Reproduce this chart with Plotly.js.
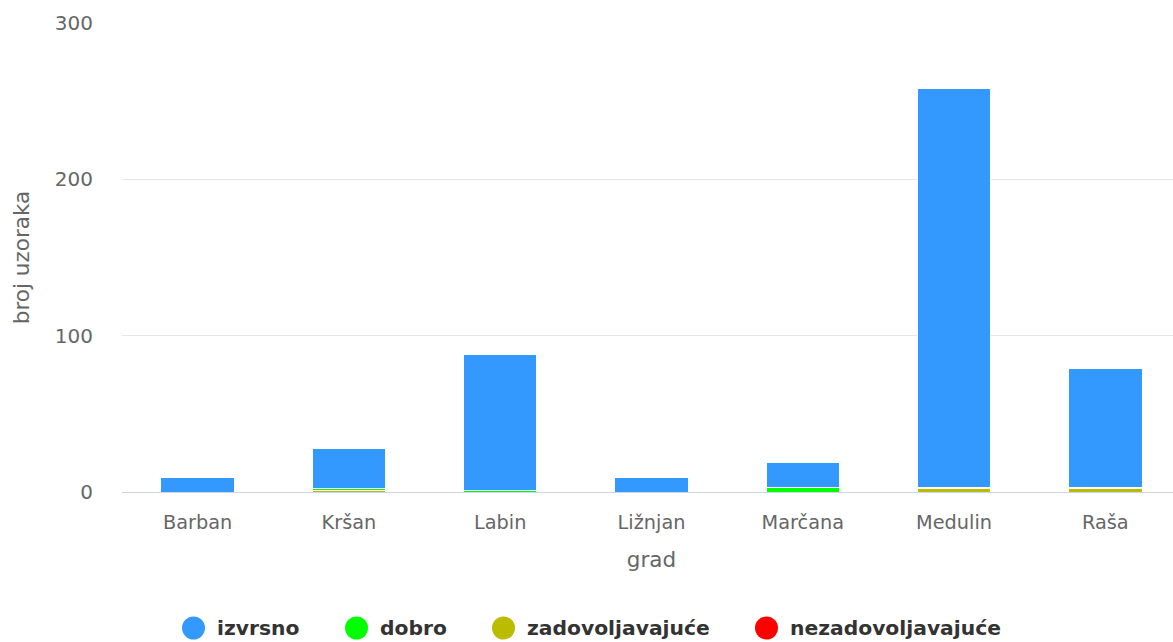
<!DOCTYPE html>
<html>
<head>
<meta charset="utf-8">
<script src="https://cdn.plot.ly/plotly-3.0.1.min.js"></script>
<style>html,body{margin:0;padding:0;background:#fff;overflow:hidden;}#chart{width:1181px;height:642px;}</style>
</head>
<body>
<div id="chart"></div>
<script>
// ---- data ----
const categories = ["Barban", "Kršan", "Labin", "Ližnjan", "Marčana", "Medulin", "Raša"];
const izvrsno = [9, 26, 87, 9, 16, 255, 76];
const dobro = [0, 1, 1, 0, 3, 1, 1];
const zadovoljavajuce = [0, 1, 0, 0, 0, 2, 2];
const nezadovoljavajuce = [0, 0, 0, 0, 0, 0, 0];
const seriesNames = ["izvrsno", "dobro", "zadovoljavajuće", "nezadovoljavajuće"];
const seriesColors = ["#3399ff", "#00ff00", "#bbbb00", "#ff0000"];
const yTicks = [0, 100, 200, 300];

// ---- geometry helpers ----
const W = 1181, H = 642, ML = 122, MR = 0, MT = 23, MB = 150;
const PW = W - ML - MR, PH = H - MT - MB;
const px = x => (x - ML) / PW;
const py = y => (H - MB - y) / PH;

const seriesValues = [izvrsno, dobro, zadovoljavajuce, nezadovoljavajuce];
const traces = [];
// stack bottom-up: nezadovoljavajuće, zadovoljavajuće, dobro, izvrsno
for (let i = seriesNames.length - 1; i >= 0; i--) {
  traces.push({
    type: "bar",
    name: seriesNames[i],
    x: categories,
    y: seriesValues[i],
    marker: {color: seriesColors[i], line: {color: "#ffffff", width: 1}},
    showlegend: false,
    hoverinfo: "x+y+name"
  });
}

// custom legend (circle symbols)
const legendStarts = [182, 345, 492, 755];
const shapes = [], annotations = [];
const legY = 628, r = 11.5;
seriesNames.forEach((n, i) => {
  const cx = legendStarts[i] + r;
  shapes.push({
    type: "circle", xref: "paper", yref: "paper",
    x0: px(cx - r), x1: px(cx + r), y0: py(legY + r), y1: py(legY - r),
    fillcolor: seriesColors[i], line: {width: 0}
  });
  annotations.push({
    xref: "paper", yref: "paper", x: px(legendStarts[i] + 33), y: py(legY),
    xanchor: "left", yanchor: "middle", showarrow: false,
    text: "<b>" + n + "</b>",
    font: {family: "DejaVu Sans", size: 20.3, color: "#333333"}
  });
});

const layout = {
  width: W, height: H,
  margin: {l: ML, r: MR, t: MT, b: MB, pad: 0},
  paper_bgcolor: "#ffffff", plot_bgcolor: "#ffffff",
  barmode: "stack",
  bargap: 0.515,
  showlegend: false,
  font: {family: "DejaVu Sans", color: "#666666"},
  xaxis: {
    type: "category",
    showgrid: false,
    showline: true, linecolor: "#ccd6eb", linewidth: 1,
    ticks: "", tickfont: {family: "DejaVu Sans", size: 19.3, color: "#666666"},
    ticklabelstandoff: 13,
    title: {text: "grad", font: {family: "DejaVu Sans", size: 21.5, color: "#666666"}, standoff: 18},
    fixedrange: true
  },
  yaxis: {
    range: [0, 300],
    tickvals: yTicks,
    ticktext: yTicks.map(String),
    showgrid: true, gridcolor: "#e6e6e6", gridwidth: 1,
    zeroline: false, showline: false,
    ticks: "", tickfont: {family: "DejaVu Sans", size: 20, color: "#666666"},
    ticklabelstandoff: 28,
    title: {text: "broj uzoraka", font: {family: "DejaVu Sans", size: 21.5, color: "#666666"}, standoff: 19},
    fixedrange: true
  },
  shapes: shapes,
  annotations: annotations
};

Plotly.newPlot("chart", traces, layout, {displayModeBar: false});
</script>
</body>
</html>
